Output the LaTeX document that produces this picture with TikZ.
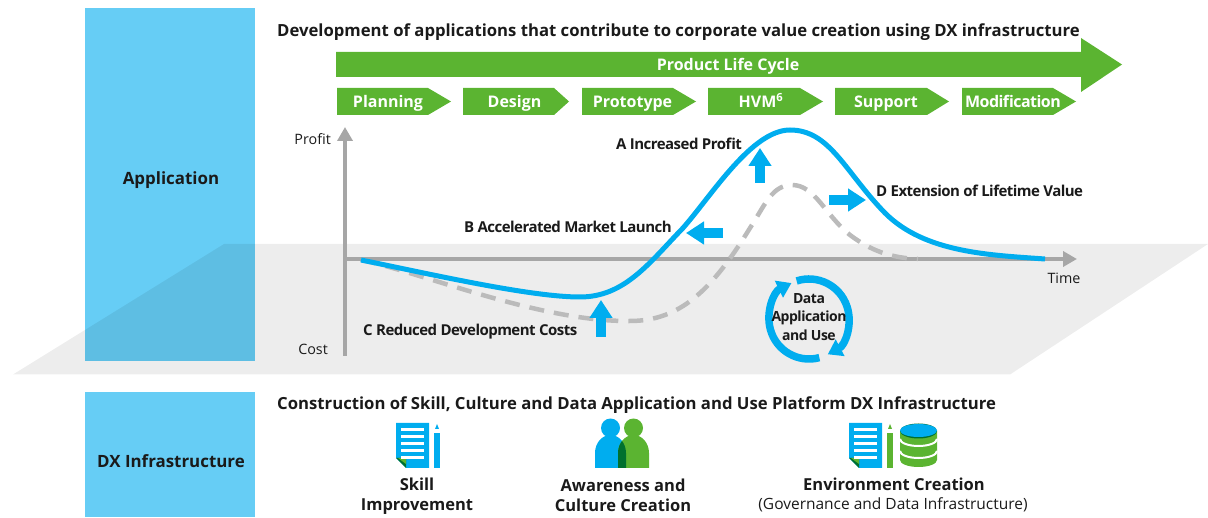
\documentclass[tikz,border=0pt]{standalone}
\usepackage{fontspec}
\setmainfont{Open Sans}
\newfontfamily\tightfont[LetterSpace=-3.5]{Open Sans}
\usepackage{tikz}
\usetikzlibrary{calc, arrows.meta}

\definecolor{dxblue}{HTML}{00ADEF}
\definecolor{dxpale}{HTML}{66CDF5}
\definecolor{dxgreen}{HTML}{5BB431}
\definecolor{dxdark}{HTML}{00702E}
\definecolor{dxgray}{HTML}{A6A6A6}
\definecolor{dxdash}{HTML}{BBBBBB}
\definecolor{dxtext}{HTML}{1A1A1A}

\tikzset{
	heading/.style={anchor=west, inner sep=0pt, text height=13pt, text depth=0pt, font=\fontsize{16.7}{20}\selectfont\bfseries, text=dxtext},
	side/.style={inner sep=0pt, text height=14pt, text depth=0pt, font=\fontsize{16.9}{20}\selectfont\bfseries, text=dxtext},
	stage/.style={inner sep=0pt, text height=12pt, text depth=0pt, font=\fontsize{16}{20}\selectfont\bfseries, text=white},
	axislabel/.style={inner sep=0pt, text height=11pt, text depth=0pt, font=\fontsize{14.3}{16}\selectfont, text=dxtext},
	effect/.style={inner sep=0pt, text height=12pt, text depth=1pt, font=\fontsize{15}{18}\selectfont\tightfont\bfseries, text=dxtext},
	wheeltext/.style={inner sep=0pt, align=center, font=\fontsize{14}{18.5}\selectfont\tightfont\bfseries, text=dxtext},
	caption/.style={inner sep=0pt, align=center, font=\fontsize{16.5}{20}\selectfont\bfseries, text=dxtext},
	axisline/.style={draw=dxgray, line width=4pt, -{Triangle[length=14pt, width=15pt]}},
	profitline/.style={draw=dxblue, line width=5pt},
	baseline/.style={draw=dxdash, line width=4.5pt, dash pattern=on 15pt off 10pt},
	nudge/.style={draw=dxblue, line width=10pt, -{Triangle[length=18pt, width=22pt]}},
	turn/.style={draw=dxblue, line width=7.5pt, -{Triangle[length=14pt, width=18pt]}}
}

% a sheet with a folded corner and a pencil beside it, #1 x of the sheet, #2 pencil colour
\newcommand{\sheeticon}[2]{
	\fill[dxblue] (#1,423) -- (#1+33,423) -- (#1+33,468) -- (#1+10,468) -- (#1,458) -- cycle;
	\fill[dxdark] (#1,458) -- (#1+10,458) -- (#1+10,468) -- cycle;
	\fill[dxgreen] (#1+2,458) -- (#1+10,458) -- (#1+10,464) -- cycle;
	\foreach \yy in {430,437,444,451,458}
		\fill[white] (#1+5,\yy-1.5) rectangle (#1+28,\yy+1.5);
	\fill[#2] (#1+38,433) rectangle (#1+44,468);
	\fill[#2] (#1+41,424) -- (#1+43,429) -- (#1+39,429) -- cycle;
}

\begin{document}
\begin{tikzpicture}[x=1pt, y=-1pt]
	\useasboundingbox (0,0) rectangle (1208,518);

	\fill[dxpale] (85,8) rectangle (255,361);
	\fill[black, opacity=0.07] (224,244) -- (1208,244) -- (1010,374.5) -- (13,374.5) -- cycle;
	\fill[dxpale] (85,392) rectangle (255,517);

	\node[side] (application) at (171,178) {Application};
	\node[side] (infra) at (171,460.5) {DX Infrastructure};

	\node[heading] (devtitle) at (277,30) {Development of applications that contribute to corporate value creation using DX infrastructure};
	\node[heading] (buildtitle) at (277,403) {Construction of Skill, Culture and Data Application and Use Platform DX Infrastructure};

	\fill[dxgreen] (336,52) -- (1081,52) -- (1081,38) -- (1122,64.5) -- (1081,92) -- (1081,77) -- (336,77) -- cycle;
	\node[stage] (lifecycle) at (728,65) {Product Life Cycle};

	\foreach \xa/\xb/\xc/\xt/\nm/\txt in {
		337/428/451/388/planning/Planning,
		463/554/569/514.5/design/Design,
		582/673/696/632.5/prototype/Prototype,
		708/800/823/761/hvm/HVM\textsuperscript{6},
		835/927/949/886/support/Support,
		962/1053/1076/1013/modification/{\tightfont\bfseries Modification}}{
		\fill[dxgreen] (\xa,88) -- (\xb,88) -- (\xc,101.5) -- (\xb,115) -- (\xa,115) -- cycle;
		\node[stage] (\nm) at (\xt,102) {\txt};
	}

	\coordinate (origin) at (345,259);
	\coordinate (costend) at (345,356);
	\coordinate (profitend) at (345,127);
	\coordinate (timeend) at (1077,259);
	\draw[axisline] (costend) -- (profitend);
	\draw[axisline] (origin) -- (timeend);
	\node[axislabel, anchor=east] (profit) at (331,139) {Profit};
	\node[axislabel, anchor=east] (cost) at (328,349) {Cost};
	\node[axislabel] (time) at (1064,278) {Time};

	\coordinate (start) at (361,260);
	\draw[baseline] (start) .. controls (420,272) and (540,322) .. (630,321)
		.. controls (680,321) and (712,290) .. (750,228)
		.. controls (765,205) and (772,185) .. (792,185)
		.. controls (815,185) and (825,215) .. (850,235)
		.. controls (870,250) and (890,258) .. (918,259);
	\draw[profitline] (start) .. controls (430,274) and (530,297) .. (580,297)
		.. controls (625,297) and (650,262) .. (683,228)
		.. controls (712,195) and (752,130) .. (790,130)
		.. controls (830,130) and (845,172) .. (885,213)
		.. controls (925,253) and (990,255) .. (1045,259);

	\coordinate (au) at (760,183);
	\coordinate (av) at (760,148);
	\coordinate (bu) at (723,233);
	\coordinate (bv) at (686,233);
	\coordinate (cu) at (601,337);
	\coordinate (cv) at (601,300);
	\coordinate (du) at (829,200);
	\coordinate (dv) at (866,200);
	\draw[nudge] (au) -- (av);
	\draw[nudge] (bu) -- (bv);
	\draw[nudge] (cu) -- (cv);
	\draw[nudge] (du) -- (dv);
	\node[effect, anchor=west] (effa) at (616,144) {A Increased Profit};
	\node[effect, anchor=west] (effb) at (464,227) {B Accelerated Market Launch};
	\node[effect, anchor=west] (effc) at (363,330) {C Reduced Development Costs};
	\node[effect, anchor=west] (effd) at (876,191) {D Extension of Lifetime Value};

	\coordinate (wheel) at (809,319);
	\begin{scope}[shift={(wheel)}, yscale=-1]
		\draw[turn] (108:40) arc[start angle=108, end angle=-62, radius=40];
		\draw[turn] (-75:40) arc[start angle=-75, end angle=-244, radius=40];
	\end{scope}
	\node[wheeltext] (datause) at (809,317) {Data\\Application\\and Use};

	\sheeticon{396}{dxblue}
	\node[caption] (skill) at (417,496.5) {Skill\\Improvement};

	\begin{scope}
		\fill[dxblue] (610.5,428) circle[radius=9.5];
		\fill[dxgreen] (633.5,428) circle[radius=9.5];
		\fill[dxblue] (595,468) -- (595,453) arc[start angle=180, end angle=0, x radius=15.5, y radius=-18] -- (626,468) -- cycle;
		\fill[dxgreen] (618,468) -- (618,453) arc[start angle=180, end angle=0, x radius=15.5, y radius=-18] -- (649,468) -- cycle;
		\clip (595,468) -- (595,453) arc[start angle=180, end angle=0, x radius=15.5, y radius=-18] -- (626,468) -- cycle;
		\fill[dxdark] (618,468) -- (618,453) arc[start angle=180, end angle=0, x radius=15.5, y radius=-18] -- (649,468) -- cycle;
	\end{scope}
	\node[caption] (aware) at (623,495) {Awareness and\\Culture Creation};

	\sheeticon{849}{dxgreen}
	\fill[dxgreen] (900,431) -- (900,460) arc[start angle=180, end angle=360, x radius=18.5, y radius=-7] -- (937,431) -- cycle;
	\draw[white, line width=2pt] (900,439) arc[start angle=180, end angle=360, x radius=18.5, y radius=-7];
	\draw[white, line width=2pt] (900,451) arc[start angle=180, end angle=360, x radius=18.5, y radius=-7];
	\fill[dxdark] (918.5,431) ellipse[x radius=18.5, y radius=7.5];
	\fill[dxblue] (918.5,430.5) ellipse[x radius=18.5, y radius=6.5];
	\node[caption] (envir) at (894,484) {Environment Creation};
	\node[axislabel, font=\fontsize{15.5}{16}\selectfont] (govern) at (893,504) {(Governance and Data Infrastructure)};
\end{tikzpicture}
\end{document}
